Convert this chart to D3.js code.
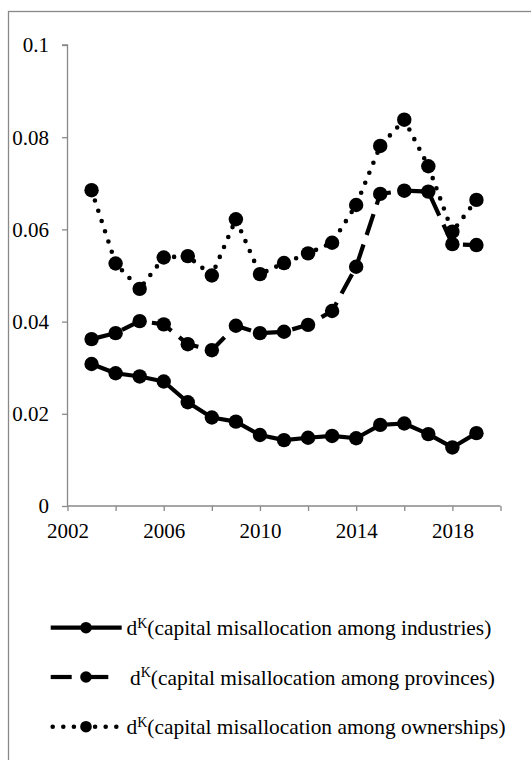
<!DOCTYPE html>
<html><head><meta charset="utf-8">
<script src="https://cdn.jsdelivr.net/npm/d3@7"></script>
<style>
html,body{margin:0;padding:0;background:#fff;}
svg{display:block;}
</style></head>
<body>
<svg id="chart" width="531" height="760"></svg>
<script>
const years = [2003,2004,2005,2006,2007,2008,2009,2010,2011,2012,2013,2014,2015,2016,2017,2018,2019];
const industries = [0.0308,0.0288,0.0281,0.0270,0.0225,0.0192,0.0183,0.0154,0.0143,0.0148,0.0152,0.0147,0.0176,0.0179,0.0156,0.0127,0.0158];
const provinces = [0.0362,0.0375,0.0401,0.0394,0.0351,0.0338,0.0391,0.0375,0.0378,0.0393,0.0423,0.0519,0.0677,0.0684,0.0682,0.0568,0.0566];
const ownerships = [0.0685,0.0526,0.0471,0.0539,0.0542,0.0500,0.0622,0.0503,0.0527,0.0548,0.0571,0.0653,0.0781,0.0838,0.0737,0.0595,0.0664];
const seriesNames = ["(capital misallocation among industries)","(capital misallocation among provinces)","(capital misallocation among ownerships)"];
const yTicks = [0,0.02,0.04,0.06,0.08,0.1];
const yTickLabels = ["0","0.02","0.04","0.06","0.08","0.1"];
const xTicks = [2002,2004,2006,2008,2010,2012,2014,2016,2018,2020];
const xLabelYears = [2002,2006,2010,2014,2018];

const FONT = '"Liberation Serif"';
const svg = d3.select("#chart");
const axisColor = "#898989";

// outer frame
svg.append("rect").attr("x",8.5).attr("y",11.5).attr("width",600).attr("height",800)
  .attr("fill","none").attr("stroke",axisColor).attr("stroke-width",1.3);

const x = d3.scaleLinear().domain([2002,2020]).range([67.5,500.5]);
const y = d3.scaleLinear().domain([0,0.1]).range([506,45]);

// y axis
const yAxis = d3.axisLeft(y).tickValues(yTicks).tickSize(5.5).tickPadding(13)
  .tickFormat((d,i)=>yTickLabels[i]);
const gy = svg.append("g").attr("transform",`translate(${x(2002)},0)`).call(yAxis);
gy.attr("font-family",null);
gy.select(".domain").attr("stroke",axisColor).attr("stroke-width",1.3).attr("d",`M-5.5,${y(0.1)}H0V${y(0)}`);
gy.selectAll(".tick line").attr("stroke",axisColor).attr("stroke-width",1.3);
gy.selectAll(".tick text").attr("font-size",21).style("font-family",FONT).attr("fill","#000").attr("dy","0.33em");

// x axis
const xAxis = d3.axisBottom(x).tickValues(xTicks).tickSize(5).tickPadding(12)
  .tickFormat(d=> xLabelYears.includes(d) ? String(d) : "");
const gx = svg.append("g").attr("transform",`translate(0,${y(0)})`).call(xAxis);
gx.attr("font-family",null);
gx.select(".domain").attr("stroke",axisColor).attr("stroke-width",1.3).attr("d",`M${x(2002)},0H${x(2020)}`);
gx.selectAll(".tick line").attr("stroke",axisColor).attr("stroke-width",1.3);
gx.selectAll(".tick text").attr("font-size",21).style("font-family",FONT).attr("fill","#000").attr("dy","0.71em");

const styles = [
  {dash:null, cap:"butt", w:4.2},
  {dash:"22,10", cap:"butt", w:4.2},
  {dash:"0,10.8", cap:"round", w:4.6}
];
const data = [industries, provinces, ownerships];

const line = d3.line().x((d,i)=>x(years[i])).y(d=>y(d));
data.forEach((vals,k)=>{
  const st = styles[k];
  const p = svg.append("path").datum(vals).attr("d",line)
    .attr("fill","none").attr("stroke","#000").attr("stroke-width",st.w)
    .attr("stroke-linejoin","round").attr("stroke-linecap",st.cap);
  if(st.dash) p.attr("stroke-dasharray",st.dash);
});
data.forEach((vals)=>{
  svg.append("g").selectAll("circle").data(vals).join("circle")
    .attr("cx",(d,i)=>x(years[i])).attr("cy",d=>y(d)).attr("r",7.2).attr("fill","#000");
});

// legend
const legRows = [627.7, 677, 726.7];
const lx0 = 50.7, lx1 = 121.7, lmx = 86;
data.forEach((vals,k)=>{
  const st = styles[k];
  const ly = legRows[k];
  const g = svg.append("g");
  if(k===2){
    g.append("line").attr("x1",52.7).attr("x2",lx1).attr("y1",ly).attr("y2",ly)
      .attr("stroke","#000").attr("stroke-width",st.w).attr("stroke-linecap","round")
      .attr("stroke-dasharray","0,10.6");
  } else if(k===1){
    g.append("line").attr("x1",lx0).attr("x2",71.7).attr("y1",ly).attr("y2",ly)
      .attr("stroke","#000").attr("stroke-width",st.w);
    g.append("line").attr("x1",81).attr("x2",108.3).attr("y1",ly).attr("y2",ly)
      .attr("stroke","#000").attr("stroke-width",st.w);
  } else {
    g.append("line").attr("x1",lx0).attr("x2",lx1).attr("y1",ly).attr("y2",ly)
      .attr("stroke","#000").attr("stroke-width",st.w);
  }
  g.append("circle").attr("cx",lmx).attr("cy",ly).attr("r",5.8).attr("fill","#000");
  const t = g.append("text").attr("x", k===1 ? 130 : 126.5).attr("y",ly+7.5)
    .attr("font-size",21.4).style("font-family",FONT).attr("fill","#000");
  t.append("tspan").text("d");
  t.append("tspan").attr("font-size",14).attr("dy",-7.5).text("K");
  t.append("tspan").attr("dy",7.5).text(seriesNames[k]);
});
</script>
</body></html>
